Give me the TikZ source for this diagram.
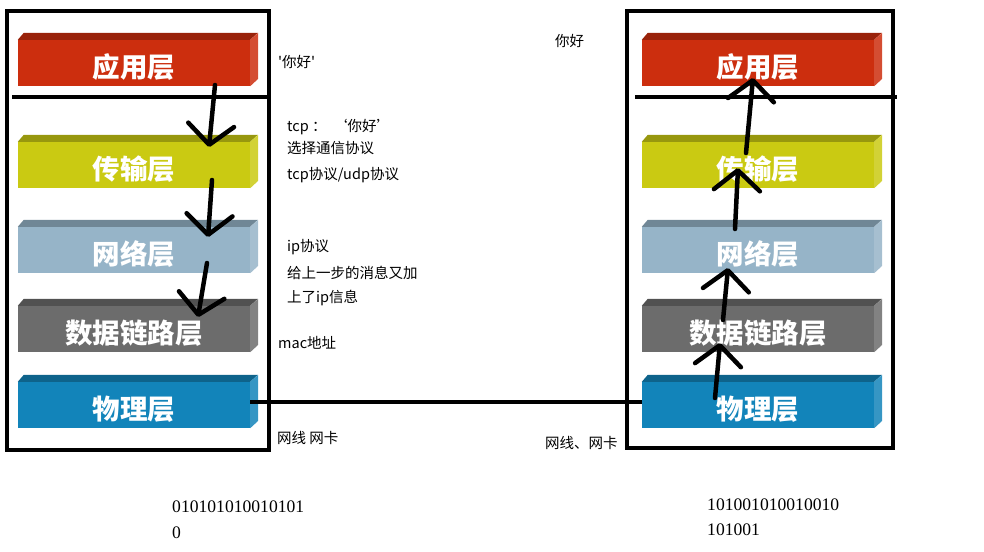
\documentclass[tikz,border=0pt]{standalone}
\usepackage{fontspec}
\setmainfont{Noto Sans CJK SC}
\newfontfamily\bitfont{Liberation Serif}
\usepackage{tikz}
\usetikzlibrary{arrows.meta, calc}
\definecolor{appred}{RGB}{204,46,14}
\definecolor{transyel}{RGB}{202,202,18}
\definecolor{netblue}{RGB}{150,180,200}
\definecolor{linkgray}{RGB}{108,108,108}
\definecolor{phyblue}{RGB}{18,132,186}

\tikzset{
  slab/.style={minimum width=232pt, minimum height=46pt, inner sep=0pt,
               text height=29pt, text depth=0pt,
               text=white, font=\fontsize{27.5}{29}\selectfont\bfseries},
  frame/.style={line width=4.5pt},
  handarrow/.style={line width=4.5pt, line cap=round,
                    -{Straight Barb[length=20pt,width=46pt,round]}},
  note/.style={anchor=west, inner sep=0pt, font=\fontsize{14.5}{16}\selectfont},
  bits/.style={anchor=west, inner sep=0pt, font=\bitfont\fontsize{17.6}{19}\selectfont},
}

\begin{document}
\begin{tikzpicture}[x=1pt, y=-1pt]
    \useasboundingbox (0,0) rectangle (984,551);

    % Layer slabs, sender (L) and receiver (R)
    \foreach \nm/\yc/\col/\txt in {app/63/appred/应用层, trans/165/transyel/传输层,
        net/250/netblue/网络层, link/329/linkgray/数据链路层, phy/405/phyblue/物理层}
      \foreach \sd/\xc in {L/134, R/758} {
        \node[slab, fill=\col] (\nm\sd) at (\xc,\yc) {\txt};
        \fill[\col!75!black] (\nm\sd.north west) -- ++(6,-7) -- ++(234,0)
          -- (\nm\sd.north east) -- cycle;
        \fill[\col!85!white] (\nm\sd.north east) -- ++(8,-7) -- ++(0,46)
          -- (\nm\sd.south east) -- cycle;
      }

    % Frames round the two stacks
    \draw[frame] (7,11) rectangle (269,450);
    \draw[frame] (627,11) rectangle (893,448);
    \draw[frame] (12,97) -- (270,97);
    \draw[frame] (635,97) -- (897,97);

    % Cable between the physical layers
    \draw[frame] ([yshift=3pt]phyL.east) -- ([yshift=3pt]phyR.west);

    % Hand-drawn arrows, going down on the left
    \coordinate (d1s) at (215,85);  \coordinate (d1e) at (209,147);
    \coordinate (d2s) at (212,180); \coordinate (d2e) at (208,237);
    \coordinate (d3s) at (207,263); \coordinate (d3e) at (198,317);
    \draw[handarrow] (d1s) -- (d1e);
    \draw[handarrow] (d2s) -- (d2e);
    \draw[handarrow] (d3s) -- (d3e);

    % ... and going up on the right
    \coordinate (u1s) at (715,398); \coordinate (u1e) at (720,343);
    \coordinate (u2s) at (723,320); \coordinate (u2e) at (728,268);
    \coordinate (u3s) at (735,229); \coordinate (u3e) at (738,168);
    \coordinate (u4s) at (746,153); \coordinate (u4e) at (753,78);
    \draw[handarrow] (u1s) -- (u1e);
    \draw[handarrow] (u2s) -- (u2e);
    \draw[handarrow] (u3s) -- (u3e);
    \draw[handarrow] (u4s) -- (u4e);

    % Notes
    \node[note] (greetL) at (278,62) {\textquotesingle 你好\textquotesingle};
    \node[note] (greetR) at (555,41) {你好};
    \node[note] (tcpnote) at (287,127) {tcp ：\ \ ‘你好’};
    \node[note] (choose) at (287,148) {选择通信协议};
    \node[note] (proto) at (287,175) {tcp协议/udp协议};
    \node[note] (ipnote) at (287,247) {ip协议};
    \node[note] (ipadd1) at (287,273) {给上一步的消息又加};
    \node[note] (ipadd2) at (287,298) {上了ip信息};
    \node[note] (mac) at (278,343) {mac地址};
    \node[note] (cableL) at (277,438) {网线 网卡};
    \node[note] (cableR) at (545,443) {网线、网卡};

    % Bit streams
    \node[bits] (bitsL1) at (172,507) {010101010010101};
    \node[bits] (bitsL2) at (172,533) {0};
    \node[bits] (bitsR1) at (707,505) {101001010010010};
    \node[bits] (bitsR2) at (707,530) {101001};
\end{tikzpicture}
\end{document}
